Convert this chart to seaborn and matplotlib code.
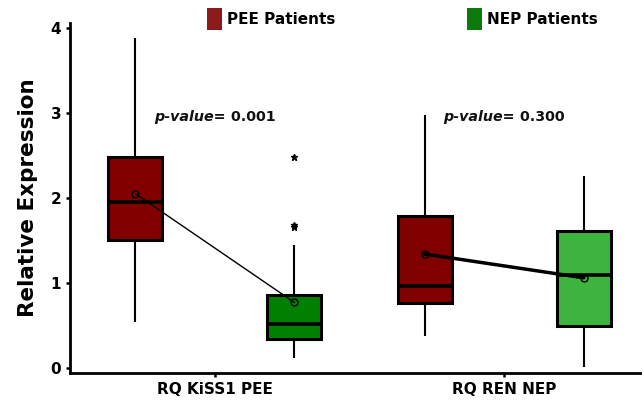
import numpy as np
import pandas as pd
import matplotlib
matplotlib.use("Agg")
import matplotlib.pyplot as plt
import seaborn as sns
from matplotlib.patches import Patch

# ---------------- data ----------------
genes = ["RQ KiSS1 PEE", "RQ REN NEP"]
groups = ["PEE Patients", "NEP Patients"]

kiss1_pee = [0.54, 1.20, 1.51, 1.75, 1.95, 2.20, 2.48, 3.10, 3.88]
kiss1_nep = [0.12, 0.18, 0.22, 0.28, 0.34, 0.38, 0.42, 0.47, 0.52,
             0.58, 0.65, 0.75, 0.86, 1.45, 1.66, 1.68, 2.48]
ren_pee = [0.38, 0.60, 0.76, 0.88, 0.96, 1.30, 1.79, 2.30, 2.98]
ren_nep = [0.01, 0.30, 0.49, 0.80, 1.09, 1.35, 1.61, 1.95, 2.26]

means_kiss1 = [2.05, 0.77]
means_ren = [1.34, 1.06]
p_values = ["0.001", "0.300"]

red = "#800000"
green_dark = "#008000"
green_light = "#3db43d"

rows = []
for g, grp, vals in [(genes[0], groups[0], kiss1_pee), (genes[0], groups[1], kiss1_nep),
                     (genes[1], groups[0], ren_pee), (genes[1], groups[1], ren_nep)]:
    for v in vals:
        rows.append({"gene": g, "group": grp, "value": v})
df = pd.DataFrame(rows)

sns.set_theme(style="ticks")
plt.rcParams["font.family"] = ["DejaVu Sans"]
plt.rcParams["text.color"] = "black"
plt.rcParams["axes.labelcolor"] = "black"

fig = plt.figure(figsize=(6.44, 4.03), dpi=100)
ax = fig.add_axes([0.109, 0.0744, 0.885, 0.869])

width = 1.1
sns.boxplot(data=df, x="gene", y="value", hue="group", order=genes, hue_order=groups,
            palette=[red, green_dark], saturation=1, width=width, gap=0.66,
            linecolor="black", linewidth=2.2, showcaps=False, whis=1.5,
            whiskerprops=dict(linewidth=1.5),
            medianprops=dict(linewidth=2.6),
            flierprops=dict(marker="*", markersize=5, markerfacecolor="black",
                            markeredgecolor="black"),
            legend=False, ax=ax)

# recolor the second NEP box (lighter green)
off = width / 4
for p in ax.patches:
    try:
        verts = p.get_path().vertices
    except Exception:
        continue
    cx = verts[:, 0].mean()
    if abs(cx - (1 + off)) < 0.15:
        p.set_facecolor(green_light)

# mean lines
for i, (m, lw) in enumerate([(means_kiss1, 1.0), (means_ren, 2.5)]):
    xs = [i - off, i + off]
    sns.lineplot(x=xs, y=m, color="black", linewidth=lw, marker="o", markersize=5,
                 markerfacecolor="none", markeredgecolor="black", markeredgewidth=1.0,
                 ax=ax, zorder=6, legend=False)

# p-value annotations
for i, pv in enumerate(p_values):
    t = ax.text(i - 0.21, 2.95, "p-value=", fontstyle="italic", fontweight="bold",
                fontsize=10.3, va="center", ha="left", color="#111111")
    ax.annotate(" " + pv, xy=(1, 0.5), xycoords=t, va="center", ha="left",
                fontweight="bold", fontsize=10.3, color="#111111")

ax.set_xlim(-0.5, 1.47)
ax.set_ylim(-0.06, 4.06)
ax.set_yticks([0, 1, 2, 3, 4])
ax.set_xlabel("")
ax.set_ylabel("Relative Expression", fontsize=15.5, fontweight="bold", labelpad=9)
sns.despine(ax=ax)
for s in ["left", "bottom"]:
    ax.spines[s].set_linewidth(2.0)
    ax.spines[s].set_color("black")
ax.tick_params(axis="both", width=1.8, length=3, colors="black")
ax.tick_params(axis="x", labelsize=11)
ax.tick_params(axis="y", labelsize=11)
for lbl in ax.get_xticklabels() + ax.get_yticklabels():
    lbl.set_fontweight("bold")

handles = [Patch(facecolor="#8b1a1a", edgecolor="none"),
           Patch(facecolor="#0c7a0c", edgecolor="none")]
fig.legend(handles, groups, loc="center", bbox_to_anchor=(0.625, 0.953), ncol=2,
           frameon=False, handlelength=0.95, handleheight=1.9, columnspacing=8.6,
           handletextpad=0.35, prop=dict(weight="bold", size=11))

fig.savefig("out.png", dpi=100)
